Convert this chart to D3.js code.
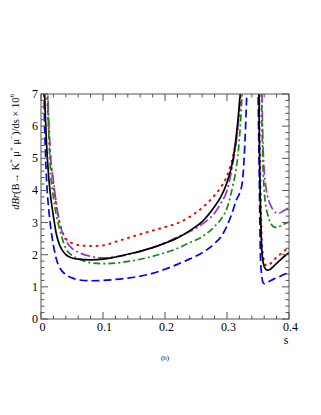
<!DOCTYPE html>
<html>
<head>
<meta charset="utf-8">
<title>dBr(B -> K* mu mu)/ds</title>
<script src="https://d3js.org/d3.v7.min.js"></script>
<style>
  body { margin: 0; background: #fff; }
  svg text { font-family: "Liberation Serif", "DejaVu Serif", serif; }
</style>
</head>
<body>
<div id="chart"></div>
<script>

// s grid below and above the charmonium gap
var sLow = [0.003, 0.005, 0.0075, 0.01, 0.0125, 0.015, 0.02, 0.025, 0.03, 0.04, 0.05, 0.06, 0.08, 0.1, 0.12,
            0.15, 0.18, 0.2, 0.22, 0.24, 0.26, 0.28, 0.29, 0.3, 0.31, 0.315, 0.32, 0.325, 0.33, 0.335];
var sHigh = [0.346, 0.348, 0.35, 0.352, 0.354, 0.356, 0.358, 0.36, 0.362, 0.365, 0.37, 0.375, 0.38,
             0.385, 0.39, 0.395, 0.4];

var blackLow  = [13, 8, 6.1, 5.1, 4.4, 3.9, 3.2, 2.62, 2.3, 2.0, 1.9, 1.86, 1.84, 1.86, 1.93,
                 2.06, 2.22, 2.36, 2.52, 2.75, 3.03, 3.5, 3.8, 4.25, 5.0, 5.7, 6.7, 8.2, 10, 13];
var redLow    = [18, 11, 8.5, 7.0, 5.9, 5.1, 4.2, 3.5, 3.0, 2.5, 2.36, 2.3, 2.27, 2.29, 2.4,
                 2.58, 2.75, 2.86, 2.98, 3.18, 3.46, 3.85, 4.1, 4.45, 5.1, 5.6, 6.5, 8, 10, 13];
var blueLow   = [12, 7, 5.0, 4.0, 3.4, 2.95, 2.3, 1.85, 1.6, 1.38, 1.28, 1.22, 1.19, 1.2, 1.23,
                 1.3, 1.42, 1.55, 1.7, 1.87, 2.06, 2.35, 2.55, 2.9, 3.4, 3.7, 3.9, 4.3, 6.0, 9.0];
var greenLow  = [17, 12, 9, 7.3, 5.8, 4.7, 3.8, 3.2, 2.8, 2.2, 1.98, 1.88, 1.75, 1.72, 1.74,
                 1.82, 1.95, 2.06, 2.2, 2.38, 2.56, 2.88, 3.1, 3.45, 4.2, 4.7, 5.6, 7.2, 9, 12];
var purpleLow = [18, 12, 9, 7.5, 6.2, 5.2, 4.3, 3.55, 3.0, 2.45, 2.2, 2.08, 1.95, 1.9, 1.93,
                 2.05, 2.22, 2.36, 2.55, 2.72, 2.95, 3.3, 3.6, 4.0, 4.9, 5.5, 6.5, 8, 10, 13];

var blackHigh  = [30, 20, 12, 6, 3.5, 2.2, 1.8, 1.63, 1.56, 1.52, 1.55, 1.64, 1.73, 1.82, 1.91, 1.99, 2.06];
var redHigh    = [30, 20, 12, 7, 4.2, 2.5, 2.0, 1.8, 1.68, 1.66, 1.72, 1.82, 1.92, 2.0, 2.08, 2.16, 2.24];
var blueHigh   = [14, 10, 7.2, 4.5, 1.9, 1.35, 1.14, 1.1, 1.11, 1.14, 1.19, 1.24, 1.28, 1.32, 1.37, 1.41, 1.46];
var greenHigh  = [30, 25, 20, 14, 9, 6.5, 4.8, 4.0, 3.6, 3.3, 3.0, 2.87, 2.84, 2.88, 2.93, 2.98, 3.02];
var purpleHigh = [30, 25, 20, 15, 10, 7.5, 5.5, 4.6, 4.2, 3.85, 3.55, 3.38, 3.3, 3.3, 3.35, 3.41, 3.47];

var xTicks = [0, 0.1, 0.2, 0.3, 0.4];
var yTicks = [0, 1, 2, 3, 4, 5, 6, 7];

var series = [
  {low: redLow,    high: redHigh,    color: '#ff0000', dash: '1,5.5', width: 2},
  {low: purpleLow, high: purpleHigh, color: '#9932cc', dash: '10,3,2,3', width: 1.7},
  {low: greenLow,  high: greenHigh,  color: '#0f8f0f', dash: '7,3,2,3', width: 1.7},
  {low: blueLow,   high: blueHigh,   color: '#0000ff', dash: '8,4', width: 1.7},
  {low: blackLow,  high: blackHigh,  color: '#000000', dash: null, width: 1.7}
];

var width = 321, height = 415;
var padL = 41, padR = 289, padT = 94, padB = 319;

var svg = d3.select('#chart').append('svg')
  .attr('width', width)
  .attr('height', height);

var x = d3.scaleLinear().domain([0, 0.4]).range([padL, padR]);
var y = d3.scaleLinear().domain([0, 7]).range([padB, padT]);

svg.append('clipPath').attr('id', 'plotclip')
  .append('rect')
    .attr('x', padL).attr('y', padT)
    .attr('width', padR - padL).attr('height', padB - padT);

var line = d3.line()
  .x(function (d) { return x(d[0]); })
  .y(function (d) { return y(d[1]); })
  .curve(d3.curveMonotoneX);

var g = svg.append('g').attr('clip-path', 'url(#plotclip)');

series.forEach(function (ea) {
  [[sLow, ea.low], [sHigh, ea.high]].forEach(function (branch) {
    var pts = d3.zip(branch[0], branch[1]);
    g.append('path')
      .attr('d', line(pts))
      .attr('fill', 'none')
      .attr('stroke', ea.color)
      .attr('stroke-width', ea.width)
      .attr('stroke-dasharray', ea.dash)
      .attr('stroke-linecap', ea.dash === '1,5.5' ? 'round' : 'butt');
  });
});

// frame and ticks on all four sides
var axisColor = '#555';
svg.append('rect')
  .attr('x', padL).attr('y', padT)
  .attr('width', padR - padL).attr('height', padB - padT)
  .attr('fill', 'none').attr('stroke', axisColor).attr('stroke-width', 1);

var xMinor = d3.range(0, 0.4001, 0.02);
var yMinor = d3.range(0, 7.001, 0.2);

var ticks = svg.append('g').attr('stroke', axisColor).attr('stroke-width', 1);
xMinor.forEach(function (v) {
  var major = xTicks.some(function (t) { return Math.abs(t - v) < 1e-6; });
  var len = major ? 7 : 3.5;
  ticks.append('line').attr('x1', x(v)).attr('x2', x(v)).attr('y1', padB).attr('y2', padB - len);
  ticks.append('line').attr('x1', x(v)).attr('x2', x(v)).attr('y1', padT).attr('y2', padT + len);
});
yMinor.forEach(function (v) {
  var major = yTicks.some(function (t) { return Math.abs(t - v) < 1e-6; });
  var len = major ? 7 : 3.5;
  ticks.append('line').attr('x1', padL).attr('x2', padL + len).attr('y1', y(v)).attr('y2', y(v));
  ticks.append('line').attr('x1', padR).attr('x2', padR - len).attr('y1', y(v)).attr('y2', y(v));
});

svg.append('g').selectAll('text')
  .data(xTicks)
  .enter().append('text')
    .attr('x', function (d) { return x(d) + 1.5; })
    .attr('y', 331)
    .attr('text-anchor', 'middle')
    .attr('font-size', 12)
    .text(function (d) { return d === 0 ? '0' : d3.format('.1f')(d); });

svg.append('g').selectAll('text')
  .data(yTicks)
  .enter().append('text')
    .attr('x', 38)
    .attr('y', function (d) { return y(d) + 4; })
    .attr('text-anchor', 'end')
    .attr('font-size', 12)
    .text(function (d) { return d; });

svg.append('text')
  .attr('x', 286).attr('y', 344)
  .attr('text-anchor', 'middle')
  .attr('font-size', 12)
  .text('s');

svg.append('text')
  .attr('x', 165).attr('y', 360)
  .attr('text-anchor', 'middle')
  .attr('font-size', 7)
  .text('(b)');

// y title, rotated, right-aligned to the top of the frame
var yt = svg.append('text')
  .attr('transform', 'translate(19,' + padT + ') rotate(-90)')
  .attr('text-anchor', 'end')
  .attr('font-size', 10.5);
yt.append('tspan').attr('font-style', 'italic').text('dBr');
yt.append('tspan').text('(B\u2192 K');
yt.append('tspan').attr('dy', -5).attr('font-size', 7).text('*');
yt.append('tspan').attr('dy', 5).text(' \u03bc');
yt.append('tspan').attr('dy', -5).attr('font-size', 7).text('+');
yt.append('tspan').attr('dy', 5).text(' \u03bc');
yt.append('tspan').attr('dy', -5).attr('font-size', 7).text('\u2212');
yt.append('tspan').attr('dy', 5).text(')/ds \u00d7 10');
yt.append('tspan').attr('dy', -5).attr('font-size', 7).text('6');

</script>
</body>
</html>
